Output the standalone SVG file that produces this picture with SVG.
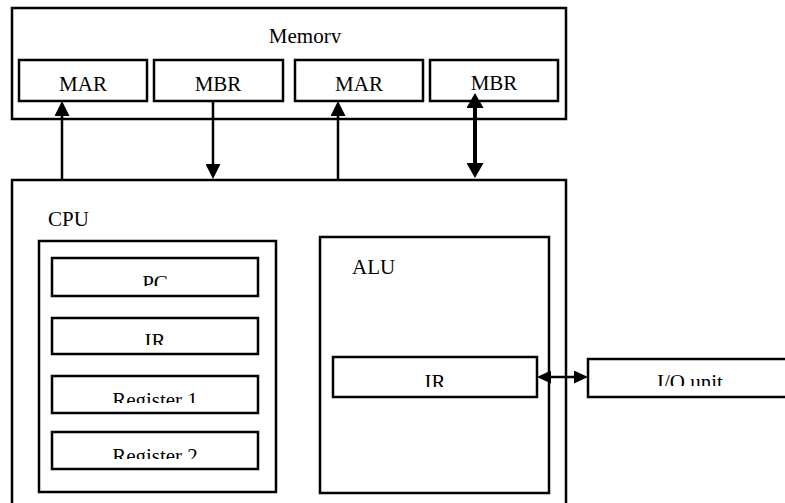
<svg xmlns="http://www.w3.org/2000/svg" width="785" height="503" viewBox="0 0 785 503" font-family="'Liberation Serif', 'Times New Roman', serif">
<style>
.box{fill:#fff;stroke:#000;stroke-width:2.5}
text{font-family:'Liberation Serif','Times New Roman','DejaVu Serif',serif;font-size:21px;fill:#000}
.c{text-anchor:middle}
.ln{stroke:#000;stroke-width:2.5;fill:none}
.lb{stroke:#000;stroke-width:4;fill:none}
</style>
<defs>
<marker id="ah" viewBox="0 0 15 15" markerWidth="15" markerHeight="15" refX="8" refY="7.5" orient="auto-start-reverse" markerUnits="userSpaceOnUse"><path d="M0,0 L15,7.5 L0,15 z" fill="#000"/></marker>
<marker id="ahb" viewBox="0 0 15 17" markerWidth="15" markerHeight="17" refX="8" refY="8.5" orient="auto-start-reverse" markerUnits="userSpaceOnUse"><path d="M0,0 L15,8.5 L0,17 z" fill="#000"/></marker>
<marker id="ahs" viewBox="0 0 14 13" markerWidth="14" markerHeight="13" refX="7" refY="6.5" orient="auto-start-reverse" markerUnits="userSpaceOnUse"><path d="M0,0 L14,6.5 L0,13 z" fill="#000"/></marker>
<clipPath id="cMem"><rect x="0" y="0" width="785" height="43"/></clipPath>
<clipPath id="cPC"><rect x="0" y="0" width="785" height="286"/></clipPath>
<clipPath id="cIR1"><rect x="0" y="0" width="785" height="345"/></clipPath>
<clipPath id="cR1"><rect x="0" y="0" width="785" height="403"/></clipPath>
<clipPath id="cR2"><rect x="0" y="0" width="785" height="459"/></clipPath>
<clipPath id="cIR2"><rect x="0" y="0" width="785" height="387"/></clipPath>
<clipPath id="cIO"><rect x="0" y="0" width="785" height="386"/></clipPath>
</defs>
<g id="memory">
<rect class="box" x="12" y="8" width="554" height="111"/>
<text class="c" x="305" y="43" clip-path="url(#cMem)">Memory</text>
</g>
<g id="mar1"><rect class="box" x="19" y="60" width="128" height="41"/><text class="c" x="83" y="91">MAR</text></g>
<g id="mbr1"><rect class="box" x="154" y="60" width="129" height="41"/><text class="c" x="218" y="91">MBR</text></g>
<g id="mar2"><rect class="box" x="295" y="60" width="128" height="41"/><text class="c" x="359" y="91">MAR</text></g>
<g id="mbr2"><rect class="box" x="430" y="60" width="128" height="41"/><text class="c" x="494" y="90">MBR</text></g>
<g id="cpu">
<rect class="box" x="12" y="180" width="554" height="340"/>
<text x="48" y="226">CPU</text>
</g>
<g id="regs"><rect class="box" x="39" y="241" width="237" height="251"/></g>
<g id="pc"><rect class="box" x="52" y="258" width="206" height="38"/><text class="c" x="155" y="290" clip-path="url(#cPC)">PC</text></g>
<g id="ir1"><rect class="box" x="52" y="318" width="206" height="36"/><text class="c" x="155" y="348" clip-path="url(#cIR1)">IR</text></g>
<g id="reg1"><rect class="box" x="52" y="376" width="206" height="37"/><text class="c" x="155" y="407" clip-path="url(#cR1)">Register 1</text></g>
<g id="reg2"><rect class="box" x="52" y="432" width="206" height="37"/><text class="c" x="155" y="463" clip-path="url(#cR2)">Register 2</text></g>
<g id="alu">
<rect class="box" x="320" y="237" width="229" height="256"/>
<text x="352" y="274">ALU</text>
</g>
<g id="ir2"><rect class="box" x="333" y="357" width="204" height="40"/><text class="c" x="435" y="389" clip-path="url(#cIR2)">IR</text></g>
<g id="io"><rect class="box" x="588" y="359" width="210" height="38"/><text class="c" x="690" y="389" clip-path="url(#cIO)">I/O unit</text></g>
<g id="connectors">
<line class="ln" x1="62" y1="180" x2="62" y2="108" marker-end="url(#ah)"/>
<line class="ln" x1="213" y1="101" x2="213" y2="172" marker-end="url(#ah)"/>
<line class="ln" x1="338" y1="180" x2="338" y2="108" marker-end="url(#ah)"/>
<line class="lb" x1="475" y1="100" x2="475" y2="171" marker-start="url(#ahb)" marker-end="url(#ahb)"/>
<line class="ln" x1="544" y1="377" x2="581" y2="377" stroke-width="3" marker-start="url(#ahs)" marker-end="url(#ahs)"/>
</g>
</svg>
